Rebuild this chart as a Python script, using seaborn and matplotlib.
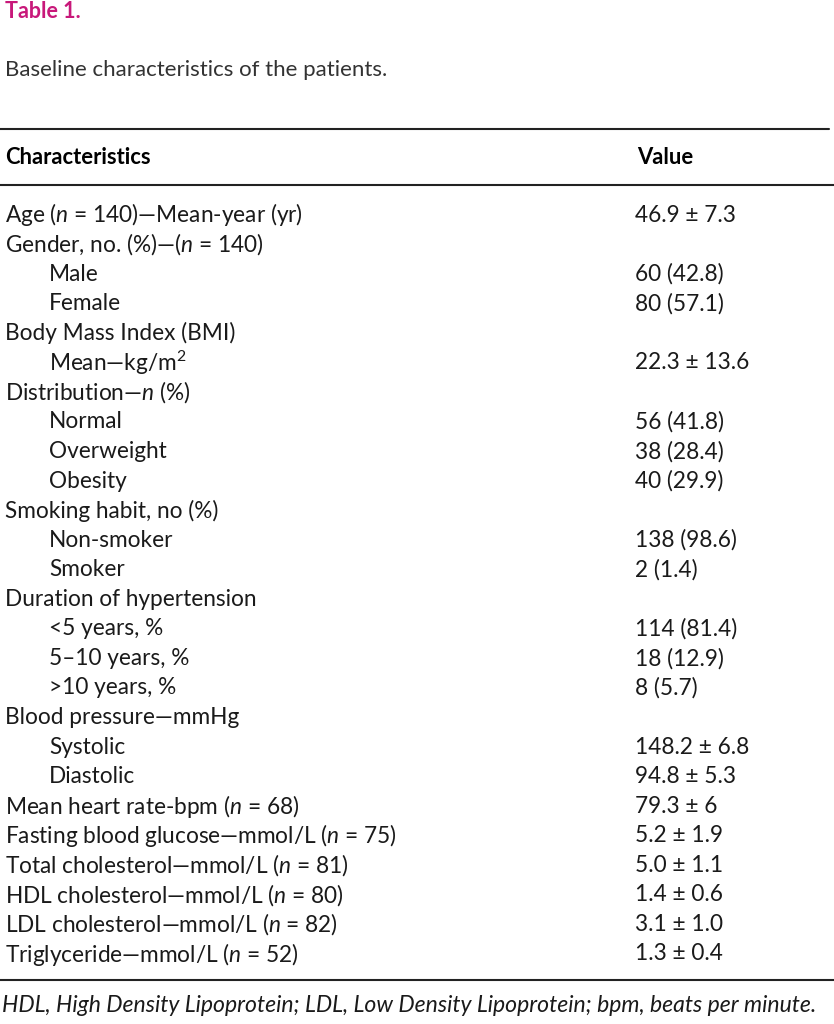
import seaborn as sns
import matplotlib.pyplot as plt

# Table content
labels = [
    "Age ($n$ = 140)—Mean-year (yr)",
    "Gender, no. (%)—($n$ = 140)",
    "Male",
    "Female",
    "Body Mass Index (BMI)",
    "Mean—kg/m$^{2}$",
    "Distribution—$n$ (%)",
    "Normal",
    "Overweight",
    "Obesity",
    "Smoking habit, no (%)",
    "Non-smoker",
    "Smoker",
    "Duration of hypertension",
    "<5 years, %",
    "5–10 years, %",
    ">10 years, %",
    "Blood pressure—mmHg",
    "Systolic",
    "Diastolic",
    "Mean heart rate-bpm ($n$ = 68)",
    "Fasting blood glucose—mmol/L ($n$ = 75)",
    "Total cholesterol—mmol/L ($n$ = 81)",
    "HDL cholesterol—mmol/L ($n$ = 80)",
    "LDL cholesterol—mmol/L ($n$ = 82)",
    "Triglyceride—mmol/L ($n$ = 52)",
]
indented = [0, 0, 1, 1, 0, 1, 0, 1, 1, 1, 0, 1, 1, 0, 1, 1, 1, 0, 1, 1, 0, 0, 0, 0, 0, 0]
values = [
    "46.9 ± 7.3", "", "60 (42.8)", "80 (57.1)", "", "22.3 ± 13.6", "",
    "56 (41.8)", "38 (28.4)", "40 (29.9)", "", "138 (98.6)", "2 (1.4)", "",
    "114 (81.4)", "18 (12.9)", "8 (5.7)", "", "148.2 ± 6.8", "94.8 ± 5.3",
    "79.3 ± 6", "5.2 ± 1.9", "5.0 ± 1.1", "1.4 ± 0.6", "3.1 ± 1.0", "1.3 ± 0.4",
]

title = "Table 1."
caption = "Baseline characteristics of the patients."
headers = ["Characteristics", "Value"]
footnote = ("HDL, High Density Lipoprotein; LDL, Low Density Lipoprotein; "
            "bpm, beats per minute.")

sns.set_theme(style="white")
plt.rcParams["font.family"] = ["Lato", "DejaVu Sans"]
plt.rcParams["mathtext.fontset"] = "custom"
plt.rcParams["mathtext.rm"] = "Lato"
plt.rcParams["mathtext.it"] = "Lato:italic"

W, H = 834, 1024
fig = plt.figure(figsize=(W / 100, H / 100), dpi=100)
ax = fig.add_axes([0, 0, 1, 1])
ax.set_xlim(0, W)
ax.set_ylim(H, 0)
ax.axis("off")

fs = 16.3
txt = "#1a1a1a"

ax.text(5, 12, title, color="#c8187a", fontsize=15.5, fontweight="bold", va="center")
ax.text(5, 70, caption, color="#333333", fontsize=16, va="center")

# rules
ax.plot([0, 829], [129, 129], color="#222222", lw=1.5)
ax.plot([0, 834], [185, 185], color="#222222", lw=1.5)
ax.plot([0, 834], [980, 980], color="#222222", lw=1.5)

ax.text(5, 158, headers[0], fontsize=15.8, fontweight="bold", color="black", va="center")
ax.text(637, 158, headers[1], fontsize=15.8, fontweight="bold", color="black", va="center")

y0, step = 215, (954 - 215) / (len(labels) - 1)
for i, (lab, ind, val) in enumerate(zip(labels, indented, values)):
    y = y0 + i * step
    ax.text(5 + 44 * ind, y, lab, fontsize=fs, color=txt, va="center")
    if val:
        ax.text(635, y, val, fontsize=fs, color=txt, va="center")

ax.text(2, 1006, footnote, fontsize=16.6, style="italic", color=txt, va="center")

fig.savefig("out.png", dpi=100)
